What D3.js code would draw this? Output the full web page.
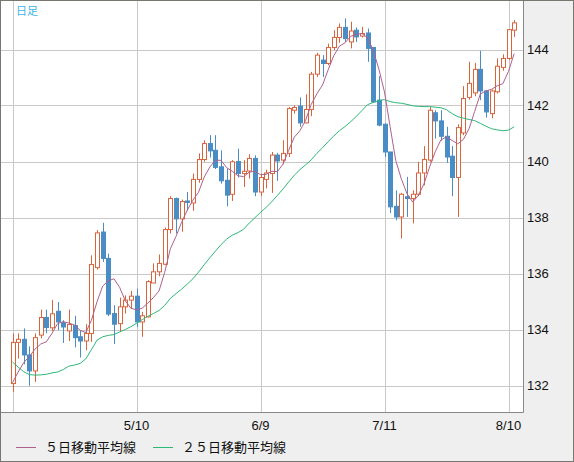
<!DOCTYPE html>
<html><head><meta charset="utf-8">
<script src="https://cdn.jsdelivr.net/npm/d3@7/dist/d3.min.js"></script>
<style>html,body{margin:0;padding:0;background:#efefef;}svg{display:block;}</style>
</head><body>
<script>
const opens  = [132.07,133.54,133.65,133.09,132.52,133.80,134.43,134.06,134.65,134.24,133.95,134.14,133.74,133.59,133.86,136.21,137.48,136.54,134.57,134.21,134.81,135.05,135.19,134.27,134.45,135.66,136.06,136.33,137.57,138.68,137.95,138.59,138.52,139.36,140.07,140.64,140.40,139.81,139.33,138.83,140.00,139.57,139.66,140.11,138.91,139.36,139.57,140.23,140.05,140.29,141.83,141.98,141.38,141.86,143.12,143.62,143.50,144.07,144.43,144.79,144.27,144.69,144.48,144.59,144.07,142.19,141.33,140.34,138.40,138.02,138.74,138.68,138.83,139.59,140.05,141.74,141.45,140.90,140.19,139.43,141.02,142.29,142.45,143.29,142.52,141.71,142.49,143.36,143.68,144.69];
const highs  = [133.86,133.86,134.04,133.40,133.86,134.71,134.71,135.05,134.98,134.33,134.71,134.49,133.98,134.19,136.65,137.55,137.81,136.71,134.87,135.14,135.22,135.38,135.46,134.63,135.76,136.36,136.68,137.64,138.76,138.71,138.64,138.91,139.57,140.29,140.76,140.94,140.94,140.40,139.75,140.05,140.46,140.05,140.26,140.22,139.57,139.71,140.34,140.31,140.76,141.95,142.01,142.29,142.40,143.20,143.88,143.80,144.21,144.69,144.93,145.11,144.99,144.79,144.81,144.75,144.09,143.05,141.36,140.34,138.97,138.88,139.45,138.97,139.99,140.55,141.95,141.83,141.83,141.24,140.55,141.33,142.69,143.56,143.52,143.95,142.55,142.57,143.68,143.83,144.71,145.05];
const lows   = [131.77,132.96,132.76,131.99,132.13,133.68,133.86,133.95,133.97,133.52,133.59,133.36,133.00,133.26,133.56,136.14,136.41,134.48,133.48,133.91,134.57,134.75,134.09,133.74,134.43,135.66,135.90,136.30,137.43,137.43,137.49,138.24,138.24,139.24,139.99,140.14,139.73,139.21,138.40,138.59,139.43,139.09,139.39,138.76,138.76,139.04,138.88,139.31,139.90,140.16,141.71,141.24,141.36,141.62,143.02,143.02,143.44,143.98,144.24,144.27,144.04,144.27,144.43,143.56,142.09,141.26,140.16,138.16,137.90,137.25,138.02,137.79,138.76,139.15,139.99,140.82,140.74,139.95,138.76,138.02,140.94,142.21,142.33,142.19,141.57,141.54,142.43,143.24,143.62,144.45];
const closes = [133.54,133.65,133.09,132.52,133.71,134.43,134.07,134.56,134.27,134.09,134.18,133.71,133.59,133.86,136.32,137.45,136.54,134.55,134.19,134.81,135.05,135.19,134.27,134.49,135.71,136.06,136.36,137.57,138.68,137.95,138.57,138.54,139.36,140.07,140.64,140.38,139.79,139.31,138.80,139.99,139.57,139.65,140.11,138.91,139.43,139.59,140.23,140.02,140.29,141.89,141.93,141.38,141.86,143.12,143.80,143.50,144.07,144.43,144.79,144.39,144.66,144.45,144.57,144.04,142.13,141.30,140.34,138.38,138.02,138.83,138.68,138.83,139.59,140.07,141.83,141.45,140.90,140.16,139.43,141.21,142.25,142.79,143.29,142.52,141.77,142.52,143.40,143.68,144.71,144.95];
const ma5  = [132.10,132.48,132.82,133.04,133.30,133.48,133.56,133.86,134.21,134.28,134.23,134.16,133.97,133.89,134.33,134.99,135.55,135.74,135.81,135.51,135.03,134.76,134.70,134.76,134.94,135.14,135.38,136.04,136.88,137.32,137.83,138.26,138.62,138.90,139.44,139.80,140.05,140.04,139.78,139.65,139.49,139.46,139.62,139.65,139.53,139.54,139.65,139.64,139.91,140.40,140.87,141.10,141.47,142.04,142.42,142.73,143.27,143.78,144.12,144.24,144.47,144.54,144.57,144.42,143.97,143.30,142.48,141.24,140.03,139.37,138.85,138.55,138.79,139.20,139.80,140.35,140.77,140.88,140.75,140.63,140.79,141.17,141.79,142.41,142.52,142.58,142.70,142.78,143.22,143.85];
const ma25 = [132.84,132.66,132.49,132.39,132.37,132.38,132.40,132.45,132.48,132.57,132.69,132.73,132.79,132.95,133.28,133.62,133.74,133.79,133.82,133.91,134.00,134.10,134.22,134.35,134.47,134.57,134.68,134.86,135.11,135.28,135.44,135.62,135.81,136.05,136.31,136.56,136.80,137.03,137.23,137.37,137.46,137.58,137.80,137.99,138.18,138.36,138.56,138.79,139.02,139.27,139.51,139.71,139.88,140.06,140.29,140.49,140.71,140.91,141.10,141.25,141.42,141.61,141.82,142.03,142.11,142.18,142.21,142.14,142.10,142.08,142.04,141.99,141.97,141.96,141.96,141.94,141.92,141.85,141.71,141.60,141.55,141.50,141.46,141.36,141.26,141.17,141.13,141.10,141.12,141.24];
const gridIndex  = [0, 22, 44, 66, 88];
const tickLabels = ["", "5/10", "6/9", "7/11", "8/10"];
const yTicks = [132, 134, 136, 138, 140, 142, 144];
const legendLabels = ["５日移動平均線", "２５日移動平均線"];
const chartTitle = "日足";

const W = 574, H = 462;
const PL = 1, PT = 1, PR = 523, PB = 412;
const RED = "#d9643c", BLUE = "#4a8cc4", PINK = "#b0608c", GREEN = "#2db877";

const svg = d3.select("body").append("svg").attr("width", W).attr("height", H);
svg.append("rect").attr("x", 0.5).attr("y", 0.5).attr("width", W - 1).attr("height", H - 1)
  .attr("fill", "#efefef").attr("stroke", "#77776f");
svg.append("rect").attr("x", PL).attr("y", PT).attr("width", PR - PL).attr("height", PB - PT).attr("fill", "#fff");

const x = d3.scaleLinear().domain([0, 88]).range([12.5, 508.5]);
const y = d3.scaleLinear().domain([132, 144]).range([385.5, 49.5]);

svg.append("clipPath").attr("id", "clip").append("rect")
  .attr("x", PL).attr("y", PT).attr("width", PR - PL).attr("height", PB - PT);

const grid = svg.append("g").attr("stroke", "#c8c8c8").attr("stroke-width", 1);
grid.selectAll("line.h").data(yTicks).join("line").attr("class", "h")
  .attr("x1", PL).attr("x2", PR).attr("y1", d => Math.round(y(d)) + 0.5).attr("y2", d => Math.round(y(d)) + 0.5);
grid.selectAll("line.v").data(gridIndex).join("line").attr("class", "v")
  .attr("y1", PT).attr("y2", PB).attr("x1", d => Math.round(x(d)) + 0.5).attr("x2", d => Math.round(x(d)) + 0.5);

const plot = svg.append("g").attr("clip-path", "url(#clip)");
const idx = d3.range(closes.length);
const cx = i => Math.round(x(i)) + 0.5;

// wicks
plot.append("g").selectAll("line").data(idx).join("line")
  .attr("x1", cx).attr("x2", cx)
  .attr("y1", i => y(highs[i])).attr("y2", i => y(lows[i]))
  .attr("stroke", i => closes[i] >= opens[i] ? RED : BLUE).attr("stroke-width", 1);
// bodies
plot.append("g").selectAll("rect").data(idx).join("rect")
  .attr("x", i => cx(i) - 2)
  .attr("width", 4)
  .attr("y", i => Math.min(y(opens[i]), y(closes[i])))
  .attr("height", i => Math.max(1, Math.abs(y(opens[i]) - y(closes[i]))))
  .attr("fill", i => closes[i] >= opens[i] ? "#fff" : BLUE)
  .attr("stroke", i => closes[i] >= opens[i] ? RED : BLUE)
  .attr("stroke-width", 1);

const line = arr => d3.line().x((d, i) => x(i)).y(d => y(d))(arr);
plot.append("path").attr("d", line(ma25)).attr("fill", "none").attr("stroke", GREEN).attr("stroke-width", 1);
plot.append("path").attr("d", line(ma5)).attr("fill", "none").attr("stroke", PINK).attr("stroke-width", 1);

// plot border right/bottom
svg.append("path").attr("d", `M${PR + 0.5},${PT}V${PB + 0.5}H${PL}`).attr("fill", "none").attr("stroke", "#888");

// y labels
svg.append("g").selectAll("text").data(yTicks).join("text")
  .attr("x", 527).attr("y", d => y(d)).attr("dy", "0.36em")
  .attr("font-family", "Liberation Sans, Arial, sans-serif").attr("font-size", 13).attr("fill", "#111")
  .text(d => d);
// x labels
svg.append("g").selectAll("text").data(gridIndex).join("text")
  .attr("x", d => x(d)).attr("y", 425).attr("dy", "0.36em").attr("text-anchor", "middle")
  .attr("font-family", "Liberation Sans, Arial, sans-serif").attr("font-size", 13).attr("fill", "#111")
  .text((d, i) => tickLabels[i]);

// title
svg.append("text").attr("x", 16).attr("y", 15).attr("font-family", "Noto Sans CJK JP, sans-serif")
  .attr("font-size", 11).attr("fill", "#3cb4e8").text(chartTitle);

// legend
const lg = [{c: PINK, x: 16, t: legendLabels[0]}, {c: GREEN, x: 153, t: legendLabels[1]}];
const leg = svg.append("g").selectAll("g").data(lg).join("g");
leg.append("line").attr("x1", d => d.x).attr("x2", d => d.x + 20).attr("y1", 447.5).attr("y2", 447.5)
  .attr("stroke", d => d.c).attr("stroke-width", 1);
leg.append("text").attr("x", d => d.x + 29).attr("y", 447.5).attr("dy", "0.36em")
  .attr("font-family", "Noto Sans CJK JP, sans-serif").attr("font-size", 13).attr("fill", "#111")
  .text(d => d.t);
</script>
</body></html>
